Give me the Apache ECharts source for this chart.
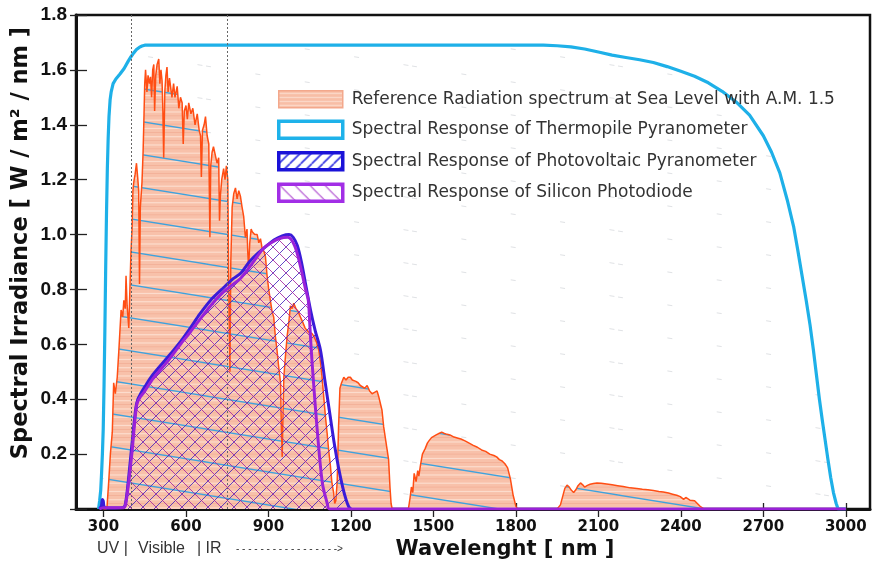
<!DOCTYPE html>
<html><head><meta charset="utf-8">
<script src="https://cdn.jsdelivr.net/npm/echarts@6/dist/echarts.min.js"></script>
<style>html,body{margin:0;padding:0;background:#fff}#c{width:873px;height:563px}</style>
</head><body><div id="c"></div>
<script>
// ---------- data ----------
const xTickValues = [300, 600, 900, 1200, 1500, 1800, 2100, 2400, 2700, 3000];
const bandMarks = [400, 750];
const seriesNames = [
  'Reference Radiation spectrum at Sea Level with A.M. 1.5',
  'Spectral Response of Thermopile Pyranometer',
  'Spectral Response of Photovoltaic Pyranometer',
  'Spectral Response of Silicon Photodiode'
];

const specWl = [300,310,313,319,325,332,337,343,350,356,364,370,374,379,382,386,392,396,400,404,407,410,415,420,425,428,431,434,440,444,447,450,453,458,462,467,471,475,479,483,486,490,495,501,505,509,513,516,519,523,527,531,535,540,544,549,555,560,568,574,580,586,590,594,600,605,610,618,625,633,641,648,653,656,660,666,671,677,683,687,690,695,700,707,713,719,722,725,730,737,742,747,752,757,760,763,768,774,780,786,792,798,804,810,816,822,825,828,832,837,841,850,859,865,871,877,883,889,895,901,907,913,919,925,931,937,944,947,950,953,956,962,968,974,980,986,992,1000,1008,1016,1025,1033,1041,1050,1058,1065,1074,1083,1090,1095,1101,1107,1113,1119,1125,1131,1137,1141,1145,1150,1155,1160,1166,1174,1182,1190,1198,1205,1210,1218,1226,1234,1241,1250,1259,1268,1277,1286,1295,1301,1307,1313,1319,1328,1337,1342,1346,1350,1400,1409,1415,1420,1425,1430,1437,1443,1447,1453,1460,1470,1478,1485,1493,1500,1510,1520,1530,1540,1550,1560,1575,1590,1600,1615,1630,1645,1660,1675,1690,1705,1720,1730,1740,1750,1760,1770,1780,1790,1800,1805,1950,1962,1970,1978,1986,1994,2002,2010,2018,2026,2035,2043,2050,2060,2070,2082,2095,2110,2130,2150,2170,2190,2216,2240,2260,2280,2300,2320,2336,2355,2370,2385,2398,2410,2418,2425,2433,2440,2450,2460,2470,2477,2485];
const specVal = [0,0,0.01,0.1,0.2,0.28,0.46,0.42,0.48,0.58,0.725,0.70,0.76,0.73,0.85,0.74,0.66,0.8,0.94,1.02,1.16,1.19,1.22,1.26,1.2,1.16,0.82,1.1,1.19,1.3,1.42,1.55,1.6,1.52,1.58,1.55,1.575,1.5,1.6,1.62,1.45,1.58,1.62,1.64,1.55,1.6,1.56,1.45,1.28,1.52,1.58,1.61,1.52,1.57,1.575,1.5,1.55,1.5,1.54,1.46,1.5,1.48,1.33,1.45,1.47,1.42,1.48,1.44,1.46,1.4,1.44,1.38,1.36,1.21,1.38,1.40,1.43,1.36,1.33,0.99,1.25,1.3,1.32,1.32,1.26,1.28,1.05,1.14,1.2,1.24,1.2,1.25,1.2,0.7,0.5,0.9,1.10,1.15,1.17,1.13,1.16,1.14,1.1,1.065,0.99,1.02,0.93,0.88,0.97,1.02,1.01,1.0,1.0,0.97,0.985,0.95,0.94,0.92,0.85,0.8,0.76,0.72,0.70,0.63,0.58,0.52,0.46,0.3,0.19,0.35,0.48,0.56,0.63,0.68,0.74,0.73,0.75,0.73,0.72,0.70,0.68,0.66,0.65,0.64,0.64,0.63,0.61,0.58,0.53,0.48,0.41,0.34,0.28,0.215,0.16,0.094,0.06,0.02,0.03,0.1,0.3,0.44,0.46,0.48,0.47,0.48,0.48,0.47,0.476,0.465,0.46,0.45,0.445,0.44,0.45,0.43,0.42,0.425,0.43,0.41,0.41,0.36,0.30,0.24,0.18,0.08,0.02,0,0,0,0.04,0.08,0.06,0.13,0.1,0.14,0.12,0.16,0.2,0.22,0.24,0.25,0.26,0.265,0.27,0.275,0.28,0.275,0.272,0.27,0.262,0.258,0.255,0.248,0.24,0.232,0.225,0.215,0.21,0.2,0.195,0.19,0.18,0.175,0.165,0.15,0.11,0.05,0.01,0,0,0.015,0.045,0.075,0.087,0.08,0.068,0.06,0.07,0.085,0.095,0.088,0.08,0.086,0.09,0.093,0.095,0.094,0.091,0.088,0.085,0.082,0.077,0.075,0.072,0.07,0.067,0.064,0.062,0.058,0.054,0.05,0.045,0.035,0.042,0.04,0.032,0.028,0.03,0.02,0.01,0.005,0];

const thermoWl  = [282,286,290,293,296,299,302,305,308,311,314,317,320,324,328,335,345,360,375,390,400,410,420,430,440,450,1900,1950,2000,2050,2100,2150,2200,2250,2300,2350,2400,2450,2500,2550,2600,2650,2700,2730,2760,2787,2810,2825,2840,2856,2870,2882,2893,2904,2915,2925,2935,2945,2955,2965,2972,3000];
const thermoVal = [0,0.03,0.07,0.13,0.2,0.29,0.45,0.65,0.88,1.08,1.24,1.35,1.43,1.49,1.52,1.55,1.567,1.585,1.605,1.632,1.648,1.662,1.674,1.682,1.687,1.69,1.69,1.688,1.684,1.676,1.665,1.654,1.645,1.637,1.627,1.612,1.595,1.577,1.553,1.522,1.484,1.435,1.36,1.30,1.225,1.126,1.03,0.945,0.855,0.76,0.67,0.58,0.49,0.40,0.32,0.25,0.18,0.115,0.06,0.02,0,0];

const pvWl  = [285,292,296,299,302,310,340,372,380,390,400,410,418,425,435,450,480,531,580,616,650,689,730,773,800,830,859,889,920,950,975,990,1005,1020,1035,1053,1070,1089,1105,1125,1140,1155,1170,1182,1192,1200];
const pvVal = [0,0.01,0.035,0.03,0.01,0.004,0.004,0.006,0.02,0.1,0.2,0.3,0.37,0.4,0.42,0.445,0.49,0.55,0.61,0.66,0.71,0.76,0.80,0.84,0.86,0.9,0.93,0.955,0.98,0.995,1.0,0.99,0.96,0.9,0.82,0.725,0.65,0.58,0.47,0.335,0.235,0.15,0.08,0.035,0.008,0];

const siWl  = [285,300,372,380,392,404,414,422,435,447,480,531,580,616,650,689,730,773,798,830,859,882,910,940,970,995,1015,1035,1045,1050,1055,1064,1078,1096,1114,1122,3000];
const siVal = [0,0.005,0.005,0.015,0.1,0.21,0.32,0.385,0.41,0.425,0.475,0.535,0.6,0.645,0.69,0.74,0.785,0.82,0.84,0.88,0.92,0.95,0.97,0.985,0.99,0.96,0.89,0.8,0.76,0.68,0.59,0.46,0.28,0.095,0.02,0,0];

// ---------- patterns ----------
function mk(w, h, draw) { const c = document.createElement('canvas'); c.width = w; c.height = h; draw(c.getContext('2d'), w, h); return c; }
const specPattern = mk(206, 33, (g, w, h) => {
  g.fillStyle = '#F8C1AA'; g.fillRect(0, 0, w, h);
  for (let i = 0; i < 8; i++) {
    const y = i * h / 8;
    g.fillStyle = i % 2 ? '#FCDCCD' : '#F1AD94';
    g.fillRect(0, y, w, i % 2 ? 1.2 : 0.7);
  }
  g.strokeStyle = '#3FA2DD'; g.lineWidth = 1.3;
  for (const o of [-h, 0, h]) { g.beginPath(); g.moveTo(0, o); g.lineTo(w, o + h); g.stroke(); }
});
const specLegendPattern = mk(64, 17, (g, w, h) => {
  g.fillStyle = '#F8BEA6'; g.fillRect(0, 0, w, h);
  g.fillStyle = '#FCDCCD';
  for (let y = 2; y < h; y += 4) g.fillRect(0, y, w, 1.2);
});
const thermoPattern = mk(206, 33, (g, w, h) => {
  g.strokeStyle = 'rgba(110,120,130,0.22)'; g.lineWidth = 1; g.setLineDash([5, 45]);
  for (const o of [-h, 0, h]) { g.beginPath(); g.moveTo(0, o); g.lineTo(w, o + h); g.stroke(); }
});
function hatch(size, color, dir, lw) {
  return mk(size, size, (g, w, h) => {
    g.strokeStyle = color; g.lineWidth = lw;
    for (const o of [-w, 0, w]) {
      g.beginPath();
      if (dir > 0) { g.moveTo(o, h); g.lineTo(o + w, 0); } else { g.moveTo(o, 0); g.lineTo(o + w, h); }
      g.stroke();
    }
  });
}
const pvPattern = hatch(13, 'rgba(70,40,190,0.85)', 1, 1);
const siPattern = hatch(13, 'rgba(165,40,160,0.85)', -1, 1);
const pvLegendPattern = hatch(11, '#2F2FE0', 1, 1.6);
const siLegendPattern = hatch(15, '#B050D0', -1, 1.2);

const pair = (a, b) => a.map((v, i) => [v, b[i]]);

const chart = echarts.init(document.getElementById('c'));
chart.setOption({
  backgroundColor: '#fff',
  animation: false,
  grid: { left: 76, right: 3, top: 15, bottom: 54, show: true, borderColor: '#111', borderWidth: 2.5, backgroundColor: 'transparent' },
  legend: {
    orient: 'vertical', left: 272, top: 85, itemWidth: 64, itemHeight: 17, itemGap: 11, icon: 'rect',
    selectedMode: false,
    textStyle: { fontFamily: 'DejaVu Sans', fontSize: 17, color: '#333', padding: [0, 0, 0, 4] },
    data: [
      { name: seriesNames[0], itemStyle: { color: { image: specLegendPattern, repeat: 'repeat' }, borderColor: '#F3A88C', borderWidth: 1.5 } },
      { name: seriesNames[1], itemStyle: { color: '#fff', borderColor: '#1EB2EA', borderWidth: 3.5 } },
      { name: seriesNames[2], itemStyle: { color: { image: pvLegendPattern, repeat: 'repeat' }, borderColor: '#1A12D8', borderWidth: 3.5 } },
      { name: seriesNames[3], itemStyle: { color: { image: siLegendPattern, repeat: 'repeat' }, borderColor: '#A22EE6', borderWidth: 3.5 } }
    ]
  },
  xAxis: [{
    type: 'value', min: 200, max: 3088,
    axisLine: { show: true, onZero: false, lineStyle: { color: '#111', width: 3 } },
    axisTick: { show: true, inside: false, length: 8, customValues: xTickValues, lineStyle: { color: '#222', width: 1.3 } },
    axisLabel: { show: true, customValues: xTickValues, margin: 11, color: '#111', fontFamily: 'DejaVu Sans', fontWeight: 'bold', fontSize: 15,
      formatter: v => String(v) },
    splitLine: { show: false }
  }, {
    type: 'value', min: 200, max: 3088, position: 'bottom',
    axisLine: { show: false },
    axisTick: { show: true, inside: true, length: 6, customValues: xTickValues, lineStyle: { color: '#222', width: 1.3 } },
    axisLabel: { show: false }, splitLine: { show: false }
  }],
  yAxis: [{
    type: 'value', min: 0, max: 1.8, interval: 0.2,
    axisLine: { show: true, onZero: false, lineStyle: { color: '#111', width: 3 } },
    axisTick: { show: true, inside: false, length: 6, lineStyle: { color: '#222', width: 1.3 } },
    axisLabel: { margin: 9, color: '#111', fontFamily: 'Liberation Sans', fontWeight: 'bold', fontSize: 19,
      formatter: v => v === 0 ? '' : v.toFixed(1) },
    splitLine: { show: false }
  }, {
    type: 'value', min: 0, max: 1.8, interval: 0.2, position: 'left',
    axisLine: { show: false },
    axisTick: { show: true, inside: true, length: 11, lineStyle: { color: '#222', width: 1.3 } },
    axisLabel: { show: false }, splitLine: { show: false }
  }],
  graphic: [
    { type: 'text', x: 21, y: 243, rotation: Math.PI / 2,
      style: { text: 'Spectral Irradiance [ W / m² / nm ]', fontFamily: 'DejaVu Sans', fontWeight: 'bold', fontSize: 22.5, fill: '#111', align: 'center', verticalAlign: 'middle' } },
    { type: 'text', x: 505, y: 550,
      style: { text: 'Wavelenght [ nm ]', fontFamily: 'DejaVu Sans', fontWeight: 'bold', fontSize: 21, fill: '#111', align: 'center', verticalAlign: 'middle' } },
    { type: 'text', x: 97, y: 549, style: { text: 'UV |', fontFamily: 'Liberation Sans', fontSize: 16, fill: '#333', verticalAlign: 'middle' } },
    { type: 'text', x: 138, y: 549, style: { text: 'Visible', fontFamily: 'Liberation Sans', fontSize: 16, fill: '#333', verticalAlign: 'middle' } },
    { type: 'text', x: 197, y: 549, style: { text: '| IR', fontFamily: 'Liberation Sans', fontSize: 16, fill: '#333', verticalAlign: 'middle' } },
    { type: 'text', x: 236, y: 549, style: { text: '- - - - - - - - - - - - - - - - ->', fontFamily: 'Liberation Sans', fontSize: 10, fill: '#333', verticalAlign: 'middle' } }
  ],
  series: [
    { name: seriesNames[1], type: 'line', data: pair(thermoWl, thermoVal), showSymbol: false, smooth: false,
      lineStyle: { color: '#1EB0E8', width: 3.2, join: 'round' }, itemStyle: { color: '#1EB0E8' },
      areaStyle: { color: { image: thermoPattern, repeat: 'repeat' }, opacity: 1 }, z: 2 },
    { name: seriesNames[0], type: 'line', data: pair(specWl, specVal), showSymbol: false,
      lineStyle: { color: '#FF4E14', width: 1.5 }, itemStyle: { color: '#F8C1AA' },
      areaStyle: { color: { image: specPattern, repeat: 'repeat' }, opacity: 1 }, z: 3 },
    { name: seriesNames[2], type: 'line', data: pair(pvWl, pvVal), showSymbol: false, smooth: 0.3,
      lineStyle: { color: '#3A1CD8', width: 3 }, itemStyle: { color: '#3A1CD8' },
      areaStyle: { color: { image: pvPattern, repeat: 'repeat' }, opacity: 1 }, z: 4 },
    { name: seriesNames[3], type: 'line', data: pair(siWl, siVal), showSymbol: false, smooth: 0.3,
      lineStyle: { color: '#9A22D8', width: 3 }, itemStyle: { color: '#9A22D8' },
      areaStyle: { color: { image: siPattern, repeat: 'repeat' }, opacity: 1 }, z: 5,
      markLine: { silent: true, symbol: 'none', label: { show: false },
        lineStyle: { color: '#666', width: 1, type: [2, 2] },
        data: bandMarks.map(v => ({ xAxis: v })) } }
  ]
});
</script></body></html>
